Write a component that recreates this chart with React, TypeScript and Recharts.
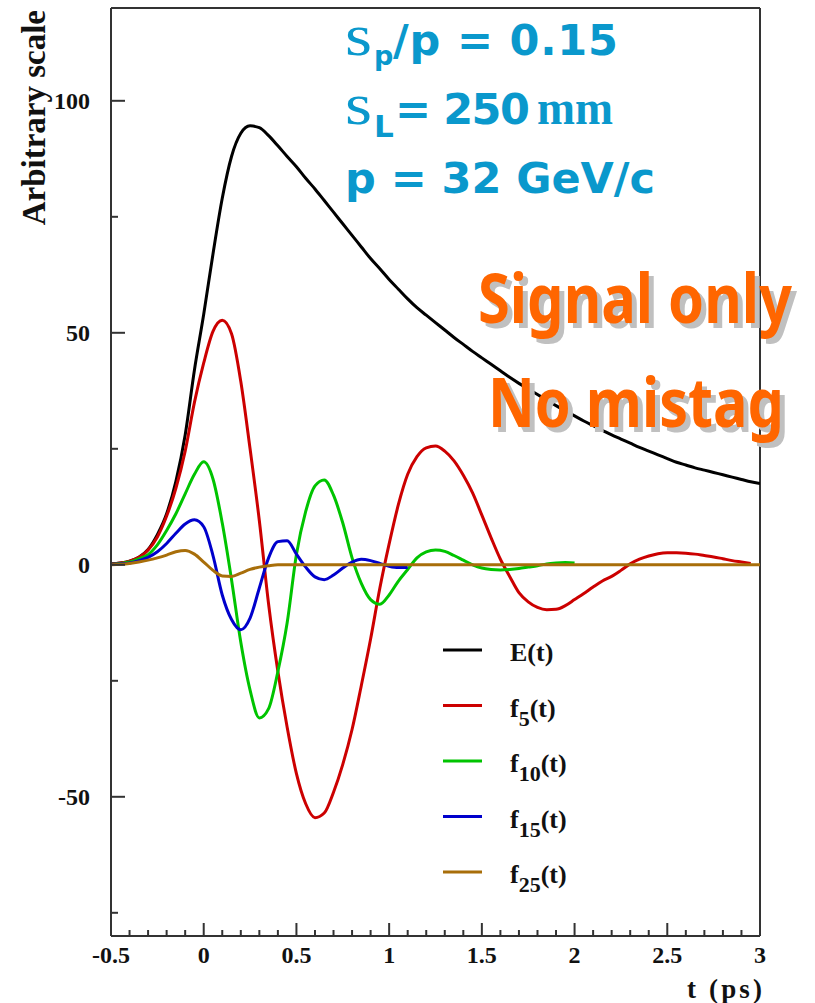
import { Legend, Line, LineChart, ReferenceLine, XAxis, YAxis } from "recharts";

// proper time grid (ps)
const tGrid = [
    -0.5, -0.45, -0.4, -0.35, -0.3, -0.25, -0.2, -0.15, -0.1, -0.05,
    0, 0.05, 0.1, 0.15, 0.2, 0.25, 0.3, 0.35, 0.4, 0.45,
    0.5, 0.55, 0.6, 0.65, 0.7, 0.75, 0.8, 0.85, 0.9, 0.95,
    1, 1.05, 1.1, 1.15, 1.2, 1.25, 1.3, 1.35, 1.4, 1.45,
    1.5, 1.55, 1.6, 1.65, 1.7, 1.75, 1.8, 1.85, 1.9, 1.95,
    2, 2.05, 2.1, 2.15, 2.2, 2.25, 2.3, 2.35, 2.4, 2.45,
    2.5, 2.55, 2.6, 2.65, 2.7, 2.75, 2.8, 2.85, 2.9, 2.95,
    3,
];

const envelope = [
    0.2, 0.4, 0.8, 1.6, 3.3, 6.5, 11, 18, 28, 42,
    54, 67, 79, 88, 93, 94.6, 94.2, 92.5, 90.3, 88,
    85.8, 83.3, 81, 78.5, 76, 73.5, 71, 68.5, 66, 63.8,
    61.5, 59.4, 57.3, 55.4, 53.8, 52.2, 50.6, 49, 47.5, 46,
    44.6, 43.2, 41.8, 40.4, 39.1, 37.9, 36.7, 35.5, 34.3, 33.2,
    32.1, 31, 30, 29, 28, 27.1, 26.2, 25.3, 24.5, 23.7,
    22.9, 22.1, 21.5, 20.9, 20.4, 19.9, 19.4, 18.9, 18.4, 17.9,
    17.5,
];

const f5 = [
    0.2, 0.4, 0.8, 1.6, 3.2, 6, 10.5, 16.5, 24.5, 35,
    43.5, 50.3, 52.7, 49.8, 39.5, 25, 9.5, -8.5, -23, -35,
    -45, -51.5, -54.5, -53.5, -49, -43, -35.5, -26, -16, -5,
    4.5, 13, 19.5, 23.3, 25.2, 25.6, 24.5, 22.4, 19.3, 15.5,
    10.7, 5.8, 1.2, -2.5, -6, -8, -9.2, -9.7, -9.6, -8.8,
    -7.5, -6.2, -4.8, -3.5, -2.5, -1.2, 0.2, 1.2, 1.9, 2.4,
    2.6, 2.6, 2.5, 2.3, 2, 1.7, 1.3, 0.9, 0.6, 0.3,
];

const f10 = [
    0.1, 0.3, 0.6, 1.3, 2.2, 4.3, 7.4, 11, 15.3, 19.5,
    22.2, 18.5, 9, -3.2, -16.7, -27, -33, -31, -23, -12.5,
    2.2, 11.5, 17, 18.3, 15, 9, 1.5, -4, -7.5, -8.5,
    -6.5, -3.5, -1, 1.5, 2.8, 3.2, 2.9, 2, 1, 0,
    -0.7, -1, -1.1, -1, -0.8, -0.5, -0.2, 0.2, 0.4, 0.5,
    0.4,
];

const f15 = [
    0.1, 0.2, 0.4, 0.9, 1.6, 2.8, 4.6, 6.8, 8.8, 9.7,
    8.2, 2, -6.5, -11.8, -14, -11.5, -5, 1.5, 5, 5.2,
    2.3, -0.5, -2.6, -3.2, -2.2, -0.7, 0.6, 1.2, 0.9, 0.3,
    -0.3, -0.6, -0.6,
];

const f25 = [
    0, 0.1, 0.3, 0.6, 1, 1.5, 2.1, 2.8, 3.1, 2.3,
    0.6, -1.2, -2.4, -2.5, -1.8, -1, -0.5, -0.2, 0, 0,
    0, 0, 0, 0, 0, 0, 0, 0, 0, 0,
    0, 0, 0, 0, 0, 0, 0, 0, 0, 0,
    0, 0, 0, 0, 0, 0, 0, 0, 0, 0,
    0, 0, 0, 0, 0, 0, 0, 0, 0, 0,
    0, 0, 0, 0, 0, 0, 0, 0, 0, 0,
    0,
];

const xTicks = [
    -0.5, -0.4, -0.3, -0.2, -0.1, 0, 0.1, 0.2, 0.3, 0.4, 0.5, 0.6, 0.7, 0.8, 0.9, 1,
    1.1, 1.2, 1.3, 1.4, 1.5, 1.6, 1.7, 1.8, 1.9, 2, 2.1, 2.2, 2.3, 2.4, 2.5, 2.6, 2.7,
    2.8, 2.9, 3,
];
const xMajor = [-0.5, 0, 0.5, 1, 1.5, 2, 2.5, 3];
const yTicks = [-75, -50, -25, 0, 25, 50, 75, 100];
const yMajor = [-50, 0, 50, 100];

const series = [
    { key: "E", main: "E", sub: "", color: "#000000", values: envelope },
    { key: "f5", main: "f", sub: "5", color: "#cc0000", values: f5 },
    { key: "f10", main: "f", sub: "10", color: "#00c400", values: f10 },
    { key: "f15", main: "f", sub: "15", color: "#0000cc", values: f15 },
    { key: "f25", main: "f", sub: "25", color: "#a86e0a", values: f25 },
];

const data = tGrid.map((t, i) => {
    const row: Record<string, number | null> = { t };
    series.forEach((s) => {
        row[s.key] = s.values[i] ?? null;
    });
    return row;
});

const SERIF = "'Liberation Serif', 'Times New Roman', serif";
const SANS = "'DejaVu Sans', Verdana, sans-serif";
const COMIC = "'Comic Sans MS', 'Noto Sans', sans-serif";
const AXIS = "#333";
const BLUE = "#0a98cc";
const ORANGE = "#ff6600";

const Y_MARGIN = 21;
const X_MARGIN = 27;

const isMajor = (list: number[], v: number) => list.some((m) => Math.abs(m - v) < 1e-6);

function YTick(props: any) {
    const { x, y, payload } = props;
    const major = isMajor(yMajor, payload.value);
    const ax = x + Y_MARGIN;
    return (
        <g>
            <line x1={ax} x2={ax + (major ? 14 : 7)} y1={y} y2={y} stroke={AXIS} strokeWidth={2} />
            {major && (
                <text x={x} y={y} dy="0.36em" textAnchor="end" fontFamily={SERIF} fontWeight="bold" fontSize={24} fill="#111">
                    {String(payload.value)}
                </text>
            )}
        </g>
    );
}

function XTick(props: any) {
    const { x, y, payload } = props;
    const major = isMajor(xMajor, payload.value);
    const ay = y - X_MARGIN;
    return (
        <g>
            <line x1={x} x2={x} y1={ay} y2={ay - (major ? 13 : 6)} stroke={AXIS} strokeWidth={2} />
            {major && (
                <text x={x} y={y} textAnchor="middle" fontFamily={SERIF} fontWeight="bold" fontSize={24} fill="#111">
                    {String(payload.value)}
                </text>
            )}
        </g>
    );
}

// legend rows follow the series order, colours come from the legend payload
function renderLegend(props: any) {
    const items: any[] = props.payload ?? [];
    return (
        <svg width={220} height={300}>
            {series.map((s, i) => {
                const item = items.find((d) => d.dataKey === s.key);
                const cy = 28 + i * 55.5;
                return (
                    <g key={s.key}>
                        <line x1={3} x2={42} y1={cy} y2={cy} stroke={item?.color ?? s.color} strokeWidth={3} />
                        <text x={70} y={cy + 11} fontFamily={SERIF} fontWeight="bold" fontSize={26} fill="#111">
                            {s.main}
                            {s.sub && (
                                <tspan dy={9} fontSize={22}>
                                    {s.sub}
                                </tspan>
                            )}
                            <tspan dy={s.sub ? -9 : 0}>(t)</tspan>
                        </text>
                    </g>
                );
            })}
        </svg>
    );
}

export default function App() {
    return (
        <div style={{ position: "absolute", left: 0, top: 0, width: 815, height: 1003, background: "#fff" }}>
            <LineChart width={815} height={1003} data={data} margin={{ top: 8, right: 55, bottom: 0, left: 0 }}>
                <XAxis
                    type="number"
                    dataKey="t"
                    domain={[-0.5, 3]}
                    allowDataOverflow
                    ticks={xTicks}
                    interval={0}
                    height={67}
                    tickSize={0}
                    tickMargin={X_MARGIN}
                    tickLine={false}
                    tick={XTick}
                    axisLine={{ stroke: AXIS, strokeWidth: 2 }}
                    label={{
                        content: ({ viewBox }: any) => (
                            <text
                                x={viewBox.x + viewBox.width - 73}
                                y={viewBox.y + 62}
                                textLength={75}
                                lengthAdjust="spacing"
                                fontFamily={SERIF}
                                fontWeight="bold"
                                fontSize={27}
                                fill="#111"
                            >
                                t (ps)
                            </text>
                        ),
                    }}
                />
                <YAxis
                    type="number"
                    domain={[-80, 120]}
                    allowDataOverflow
                    ticks={yTicks}
                    interval={0}
                    width={111}
                    tickSize={0}
                    tickMargin={Y_MARGIN}
                    tickLine={false}
                    tick={YTick}
                    axisLine={{ stroke: AXIS, strokeWidth: 2 }}
                    label={{
                        content: ({ viewBox }: any) => (
                            <text
                                transform={`translate(${viewBox.x + 45}, ${viewBox.y + 2}) rotate(-90)`}
                                textAnchor="end"
                                fontFamily={SERIF}
                                fontWeight="bold"
                                fontSize={33}
                                fill="#111"
                            >
                                Arbitrary scale
                            </text>
                        ),
                    }}
                />
                <ReferenceLine y={120} stroke={AXIS} strokeWidth={2} />
                <ReferenceLine x={3} stroke={AXIS} strokeWidth={2} />

                {series.map((s) => (
                    <Line
                        key={s.key}
                        dataKey={s.key}
                        name={s.key}
                        type="monotone"
                        stroke={s.color}
                        strokeWidth={3}
                        dot={false}
                        activeDot={false}
                        isAnimationActive={false}
                    />
                ))}

                <Legend
                    layout="vertical"
                    align="center"
                    verticalAlign="middle"
                    wrapperStyle={{ left: 440, top: 622, width: 220, height: 300 }}
                    content={renderLegend}
                />
            </LineChart>

            <svg width={815} height={1003} style={{ position: "absolute", left: 0, top: 0, pointerEvents: "none" }}>
                <g fill={BLUE}>
                    <text x={345} y={55} fontFamily={SERIF} fontSize={60} textLength={27} lengthAdjust="spacingAndGlyphs">s</text>
                    <text x={374} y={65} fontFamily={SANS} fontWeight="bold" fontSize={27}>p</text>
                    <text x={393} y={55} fontFamily={SANS} fontWeight="bold" fontSize={43} textLength={225} lengthAdjust="spacing">
                        /p = 0.15
                    </text>

                    <text x={345} y={124} fontFamily={SERIF} fontSize={60} textLength={27} lengthAdjust="spacingAndGlyphs">s</text>
                    <text x={374} y={137} fontFamily={SANS} fontWeight="bold" fontSize={31}>L</text>
                    <text x={395} y={124} fontFamily={SANS} fontWeight="bold" fontSize={43} textLength={135} lengthAdjust="spacing">
                        = 250
                    </text>
                    <text x={537} y={124} fontFamily={SERIF} fontWeight="bold" fontSize={48} textLength={76} lengthAdjust="spacingAndGlyphs">
                        mm
                    </text>

                    <text x={345} y={193} fontFamily={SANS} fontWeight="bold" fontSize={43} textLength={310} lengthAdjust="spacing">
                        p = 32 GeV/c
                    </text>
                </g>

                <g fontFamily={COMIC} fontWeight="bold" fontSize={68}>
                    <text x={483} y={328} fill="#c0c0c0" textLength={314} lengthAdjust="spacingAndGlyphs">Signal only</text>
                    <text x={478} y={323} fill={ORANGE} textLength={314} lengthAdjust="spacingAndGlyphs">Signal only</text>
                    <text x={493} y={432} fill="#c0c0c0" textLength={296} lengthAdjust="spacingAndGlyphs">No mistag</text>
                    <text x={488} y={427} fill={ORANGE} textLength={296} lengthAdjust="spacingAndGlyphs">No mistag</text>
                </g>
            </svg>
        </div>
    );
}
